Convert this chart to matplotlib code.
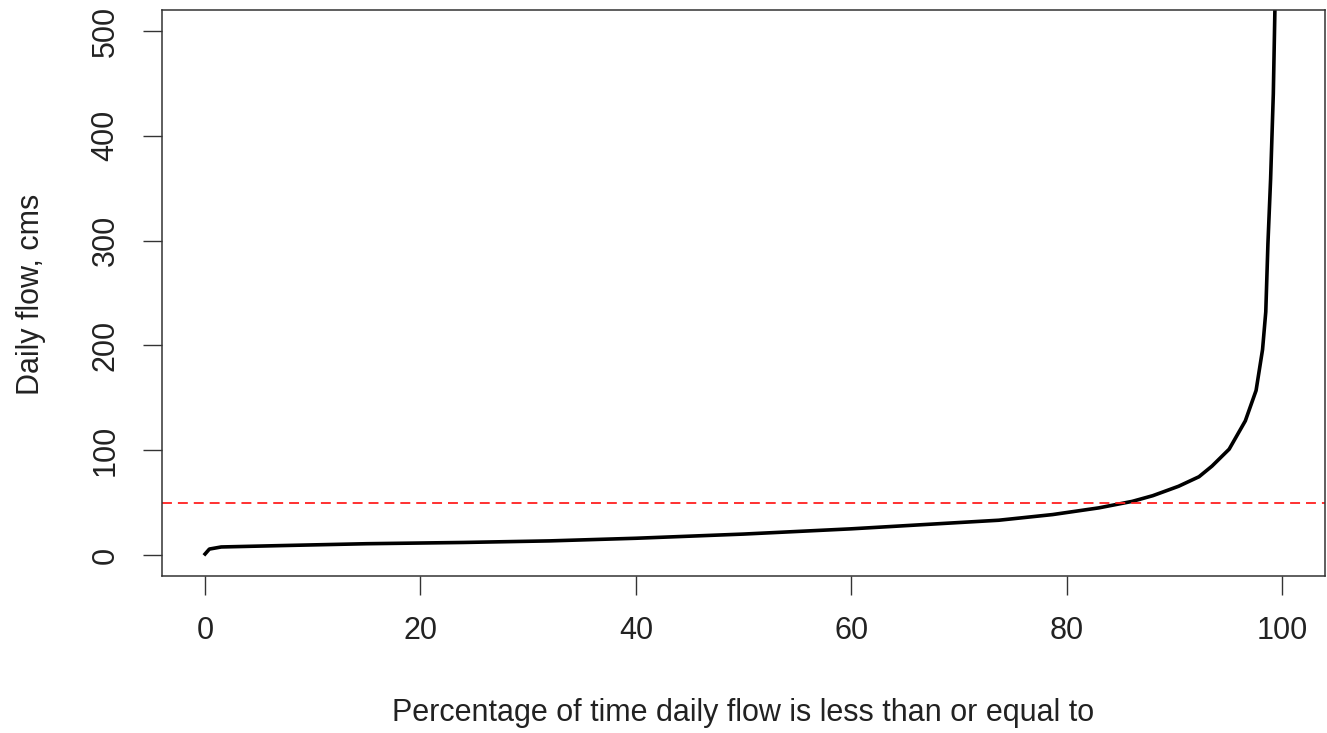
import numpy as np
import matplotlib
matplotlib.use("Agg")
import matplotlib.pyplot as plt

plt.rcParams['font.family'] = ['Liberation Sans', 'DejaVu Sans']

# flow duration curve
pct = [0, 0.4, 1.5, 7, 15, 24, 32, 40, 50, 60, 70, 73.7, 78.7, 83, 86.1, 88,
       90.4, 92.3, 93.5, 95.1, 96.6, 97.6, 98.2, 98.5, 98.7, 98.95, 99.2,
       99.35, 99.6, 100]
flow = [1, 5.7, 7.7, 9, 10.8, 12, 13.5, 16, 20, 25, 31, 33.2, 38.6, 45, 51.2,
        56.6, 65.6, 74.7, 84.8, 101, 128, 157, 196, 232, 297, 359, 440,
        521, 800, 1500]
threshold = 50
xticks = [0, 20, 40, 60, 80, 100]
yticks = [0, 100, 200, 300, 400, 500]

fig = plt.figure(figsize=(13.27, 7.33), dpi=100)
ax = fig.add_axes([162/1327, 1-576/733, (1325-162)/1327, (576-10)/733])

ax.plot(pct, flow, color='black', lw=2.6, solid_joinstyle='round')
ax.axhline(threshold, color='#ff2020', lw=1.3, ls=(0, (5.5, 3.3)))

ax.set_xlim(-4, 104)
ax.set_ylim(-20, 520)
ax.set_xticks(xticks)
ax.set_yticks(yticks)
ax.tick_params(length=13.7, width=1.0, color='#333333', labelsize=22,
               labelcolor='#222222')
ax.tick_params(axis='x', pad=15)
ax.tick_params(axis='y', pad=16)
for lab in ax.get_yticklabels():
    lab.set_rotation(90)
    lab.set_va('center')
for s in ax.spines.values():
    s.set_linewidth(1.1)
    s.set_color('#333333')

fig.text(743/1327, 1-713/733, 'Percentage of time daily flow is less than or equal to',
         ha='center', va='center', fontsize=22, color='#222222')
fig.text(31/1327, 1-294/733, 'Daily flow, cms', rotation=90, ha='center',
         va='center', fontsize=22, color='#222222')

fig.savefig('out.png', dpi=100)
